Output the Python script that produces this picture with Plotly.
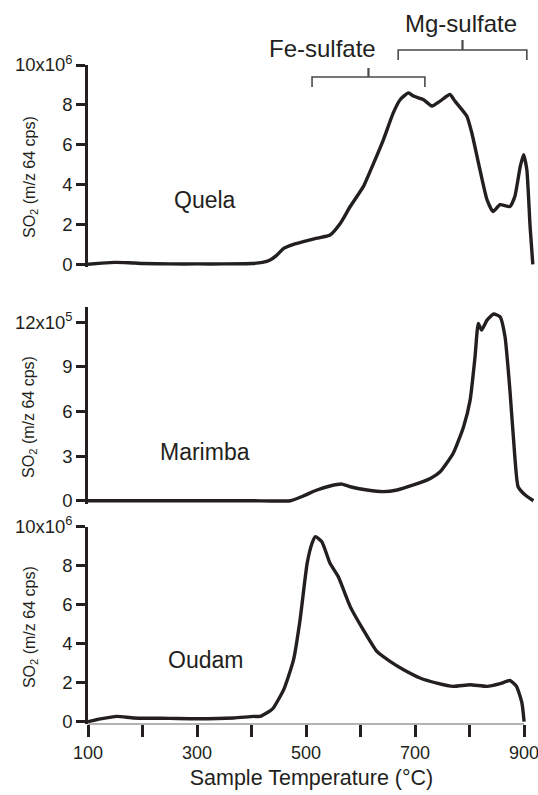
import plotly.graph_objects as go

# ---------------- data ----------------
quela_T = [100, 125, 150, 175, 200, 250, 300, 350, 400, 420, 434, 446, 459, 477, 495, 520, 544, 563, 581,
           605, 624, 642, 660, 673, 688, 697, 715, 731, 746, 764, 773, 795, 804, 819, 832,
           843, 856, 874, 883, 893, 899, 905, 911, 916]
quela_v = [0.0, 0.06, 0.1, 0.08, 0.04, 0.02, 0.02, 0.02, 0.04, 0.1, 0.22, 0.45, 0.8, 1.0, 1.14, 1.31, 1.47, 2.06, 2.9,
           3.9, 5.08, 6.26, 7.6, 8.27, 8.6, 8.44, 8.27, 7.94, 8.19, 8.52, 8.19, 7.43, 6.6, 4.75, 3.24,
           2.65, 2.99, 2.9, 3.4, 4.91, 5.5, 4.75, 1.89, 0.0]

marimba_T = [100, 200, 300, 400, 471, 495, 520, 544, 566, 581, 612, 642, 667, 697, 728, 746, 770,
             789, 801, 810, 816, 822, 832, 844, 856, 865, 874, 883, 889, 902, 917]
marimba_v = [0.0, 0.0, 0.0, 0.0, 0.0, 0.32, 0.72, 0.99, 1.12, 0.94, 0.72, 0.61, 0.72, 1.06, 1.5, 1.95, 3.19,
             4.98, 6.77, 9.68, 11.93, 11.48, 12.15, 12.56, 12.37, 11.03, 7.44, 2.96, 0.94, 0.38, 0.0]

oudam_T = [100, 123, 153, 184, 250, 300, 367, 404, 416, 434, 440, 459, 477, 489, 502, 511, 517, 529,
           544, 559, 581, 605, 630, 654, 679, 709, 740, 770, 801, 832, 856, 874, 886, 896, 900]
oudam_v = [0.0, 0.14, 0.27, 0.19, 0.17, 0.15, 0.19, 0.27, 0.27, 0.55, 0.7, 1.64, 3.17, 5.22, 8.12, 9.15, 9.49, 9.23,
           8.12, 7.44, 5.9, 4.71, 3.6, 3.09, 2.66, 2.24, 1.98, 1.81, 1.89, 1.81, 1.95, 2.11, 1.81, 0.96, 0.0]

x_tickvals = [100, 300, 500, 700, 900]
x_ticktext = ["100", "300", "500", "700", "900"]
x_minor_tickvals = [200, 400, 600, 800]
y1_tickvals = [0, 2, 4, 6, 8, 10]
y1_ticktext = ["0", "2", "4", "6", "8", "10x10<sup>6</sup>"]
y2_tickvals = [0, 3, 6, 9, 12]
y2_ticktext = ["0", "3", "6", "9", "12x10<sup>5</sup>"]
y3_tickvals = [0, 2, 4, 6, 8, 10]
y3_ticktext = ["0", "2", "4", "6", "8", "10x10<sup>6</sup>"]
sample_names = ["Quela", "Marimba", "Oudam"]
y_title = "SO<sub>2</sub> (m/z 64 cps)"
x_title = "Sample Temperature (°C)"
fe_label, fe_range = "Fe-sulfate", (511, 718)
mg_label, mg_range = "Mg-sulfate", (669, 905)

# ---------------- style ----------------
INK = "#231f20"
FONT = "Liberation Sans, Arial, sans-serif"
LINE_W = 3.4

fig = go.Figure()
for xs, ys, xa, ya in [(quela_T, quela_v, "x", "y"), (marimba_T, marimba_v, "x2", "y2"),
                       (oudam_T, oudam_v, "x3", "y3")]:
    fig.add_trace(go.Scatter(x=xs, y=ys, mode="lines",
                             line=dict(color=INK, width=LINE_W, shape="spline", smoothing=0.5),
                             xaxis=xa, yaxis=ya, showlegend=False, hoverinfo="skip"))

XR = [100, 920]
common_x = dict(range=XR, showgrid=False, zeroline=False)
fig.update_layout(
    xaxis=dict(**common_x, anchor="y", showticklabels=False, ticks="", showline=False),
    xaxis2=dict(**common_x, anchor="y2", showticklabels=False, ticks="", showline=False),
    xaxis3=dict(**common_x, anchor="y3", showline=False, ticks="outside", ticklen=12, tickwidth=3,
                tickcolor=INK, tickvals=x_tickvals, ticktext=x_ticktext, ticklabeloverflow="allow",
                minor=dict(tickvals=x_minor_tickvals, ticks="outside", ticklen=12, tickwidth=3,
                           tickcolor=INK, showgrid=False),
                tickfont=dict(size=18, color=INK, family=FONT),
                title=dict(text=x_title, font=dict(size=21.5, color=INK, family=FONT), standoff=8)),
)

ycommon = dict(showgrid=False, zeroline=False, showline=True, linecolor=INK, linewidth=2.5,
               ticks="outside", ticklen=9, tickwidth=2.5, tickcolor=INK, ticklabeloverflow="allow",
               tickfont=dict(size=18.5, color=INK, family=FONT))
fig.update_layout(
    yaxis=dict(**ycommon, domain=[0.693, 1.0], range=[-0.15, 10], anchor="x",
               tickvals=y1_tickvals, ticktext=y1_ticktext),
    yaxis2=dict(**ycommon, domain=[0.3343, 0.6332], range=[-0.2, 13.05], anchor="x2",
                tickvals=y2_tickvals, ticktext=y2_ticktext),
    yaxis3=dict(**ycommon, domain=[0.0, 0.2994], range=[-0.12, 10], anchor="x3",
                tickvals=y3_tickvals, ticktext=y3_ticktext),
)

# bottom x-axis baseline (gray, 100-900 only)
fig.add_shape(type="line", xref="x3", yref="y3 domain", x0=100, x1=900, y0=0, y1=0,
              line=dict(color="#9a9a9a", width=1.6), layer="below")

# y-axis titles
for yc in [0.830, 0.466, 0.147]:
    fig.add_annotation(text=y_title, xref="paper", yref="paper", x=-0.1298, y=yc,
                       textangle=-90, showarrow=False, xanchor="center", yanchor="middle",
                       font=dict(size=16, color=INK, family=FONT))

# sample labels
for name, xr, yr, yv in [(sample_names[0], "x", "y", 3.24), (sample_names[1], "x2", "y2", 3.27),
                         (sample_names[2], "x3", "y3", 3.17)]:
    fig.add_annotation(text=name, xref=xr, yref=yr, x=315, y=yv, showarrow=False,
                       xanchor="center", yanchor="middle", font=dict(size=23, color=INK, family=FONT))

# brackets
def bracket(x0, x1, y_h, y_end, y_top, color="#4a4a4a"):
    xc = (x0 + x1) / 2
    fig.add_shape(type="path", xref="x", yref="paper",
                  path=f"M {x0},{y_end} L {x0},{y_h} L {x1},{y_h} L {x1},{y_end}",
                  line=dict(color=color, width=1.6))
    fig.add_shape(type="line", xref="x", yref="paper", x0=xc, x1=xc, y0=y_h, y1=y_top,
                  line=dict(color=color, width=2.2))
    return xc

bracket(fe_range[0], fe_range[1], 0.9818, 0.9666, 0.9954)
bracket(mg_range[0], mg_range[1], 1.0228, 1.0076, 1.0379)
fig.add_annotation(text=fe_label, xref="x", yref="paper", x=530, y=1.0243, showarrow=False,
                   xanchor="center", yanchor="middle", font=dict(size=24, color=INK, family=FONT))
fig.add_annotation(text=mg_label, xref="x", yref="paper", x=784, y=1.0637, showarrow=False,
                   xanchor="center", yanchor="middle", font=dict(size=24, color=INK, family=FONT))

fig.update_layout(
    width=538, height=795,
    margin=dict(l=88, r=3, t=65, b=71, autoexpand=False),
    paper_bgcolor="white", plot_bgcolor="white",
    font=dict(family=FONT, color=INK),
    hovermode=False,
)

# remove the default 8px page margin so the figure fills the 538x795 window exactly
fig.write_html("out.html", config={"displayModeBar": False},
               post_script="document.body.style.margin='0';document.body.style.overflow='hidden';")
